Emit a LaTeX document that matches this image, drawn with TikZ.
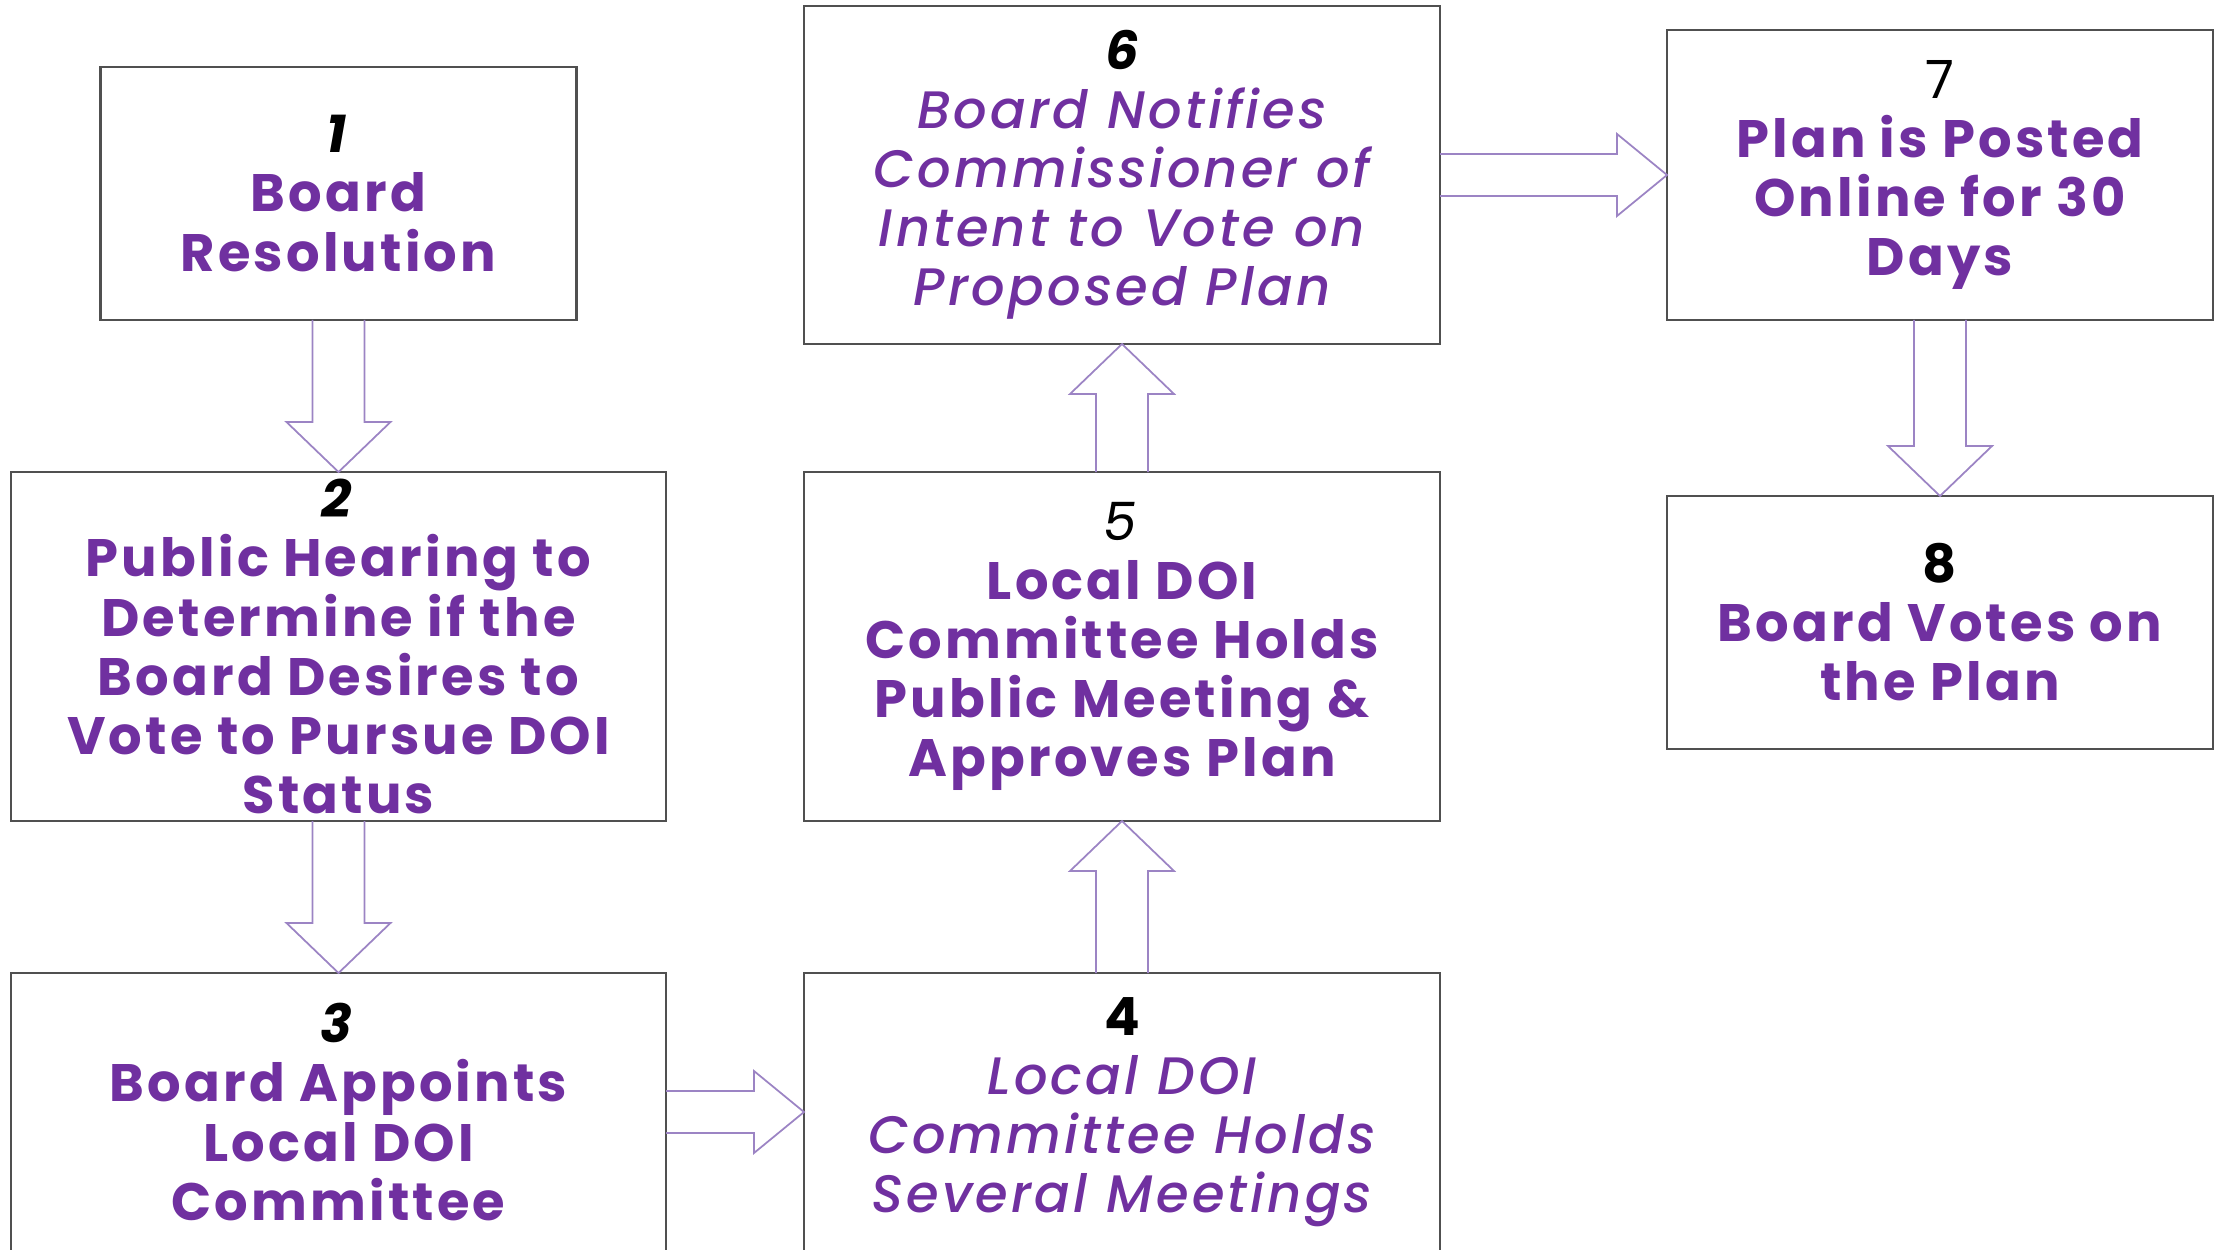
\documentclass[tikz,border=0pt]{standalone}
\usepackage{fontspec}
\setmainfont{Poppins}[LetterSpace=6]
\newfontface\stepitalic{Poppins Medium Italic}[LetterSpace=6]
\usetikzlibrary{positioning,calc}

\definecolor{stepviolet}{HTML}{7030A0}
\definecolor{arrowviolet}{HTML}{9C84C4}
\definecolor{boxgray}{HTML}{505050}

% hollow block arrow from #1 to #2, shaft half width #3, head half width #4
\newcommand{\flowarrow}[4]{%
  \coordinate (h) at ($(#2)!0.5cm!(#1)$);
  \draw[flowline] ($(#1)!#3!90:(#2)$) -- ($(h)!#3!-90:(#1)$) -- ($(h)!#4!-90:(#1)$)
    -- (#2) -- ($(h)!#4!90:(#1)$) -- ($(h)!#3!90:(#1)$) -- ($(#1)!#3!-90:(#2)$);
}

\begin{document}
\begin{tikzpicture}[
    stepbox/.style={draw=boxgray, line width=0.6pt, fill=white, inner sep=0pt,
      outer sep=0pt, align=center, text=stepviolet,
      font=\fontsize{15}{16.8}\selectfont\bfseries},
    slanted/.style={font=\fontsize{15}{16.8}\selectfont\stepitalic},
    flowline/.style={draw=arrowviolet, line width=0.5pt, line join=miter}]
    \useasboundingbox (0,0) rectangle (22.23,12.49);

    % Nodes
    \node[stepbox, minimum width=6.55cm, minimum height=3.49cm] (s2) at (3.385,6.025)
      {\textcolor{black}{\textit{2}}\\ Public Hearing to\\ Determine if the\\ Board Desires to\\ Vote to Pursue DOI\\ Status};
    \node[stepbox, minimum width=4.76cm, minimum height=2.53cm, above=1.52cm of s2] (s1)
      {\textcolor{black}{\textit{1}}\\ Board\\ Resolution};
    \node[stepbox, minimum width=6.55cm, minimum height=2.78cm, below=1.52cm of s2] (s3)
      {\textcolor{black}{\textit{3}}\\ Board Appoints\\ Local DOI\\ Committee};
    \node[stepbox, minimum width=6.36cm, minimum height=3.49cm, right=1.38cm of s2] (s5)
      {\textcolor{black}{\mdseries\textit{5}}\\ Local DOI\\ Committee Holds\\ Public Meeting \&\\ Approves Plan};
    \node[stepbox, slanted, minimum width=6.36cm, minimum height=2.78cm, below=1.52cm of s5] (s4)
      {\textcolor{black}{\normalfont\bfseries 4}\\ Local DOI\\ Committee Holds\\ Several Meetings};
    \node[stepbox, slanted, minimum width=6.36cm, minimum height=3.38cm, above=1.28cm of s5] (s6)
      {\textcolor{black}{\normalfont\bfseries\itshape 6}\\ Board Notifies\\ Commissioner of\\ Intent to Vote on\\ Proposed Plan};
    \node[stepbox, minimum width=5.46cm, minimum height=2.90cm, right=2.27cm of s6] (s7)
      {\textcolor{black}{\mdseries 7}\\ Plan is Posted\\ Online for 30\\ Days};
    \node[stepbox, minimum width=5.46cm, minimum height=2.53cm, below=1.76cm of s7] (s8)
      {\textcolor{black}{8}\\ Board Votes on\\ the Plan};

    % Arrows
    \flowarrow{s1.south}{s2.north}{0.26cm}{0.52cm}
    \flowarrow{s2.south}{s3.north}{0.26cm}{0.52cm}
    \flowarrow{s3.east}{s4.west}{0.21cm}{0.41cm}
    \flowarrow{s4.north}{s5.south}{0.26cm}{0.52cm}
    \flowarrow{s5.north}{s6.south}{0.26cm}{0.52cm}
    \flowarrow{s6.east}{s7.west}{0.21cm}{0.41cm}
    \flowarrow{s7.south}{s8.north}{0.26cm}{0.52cm}
\end{tikzpicture}
\end{document}
